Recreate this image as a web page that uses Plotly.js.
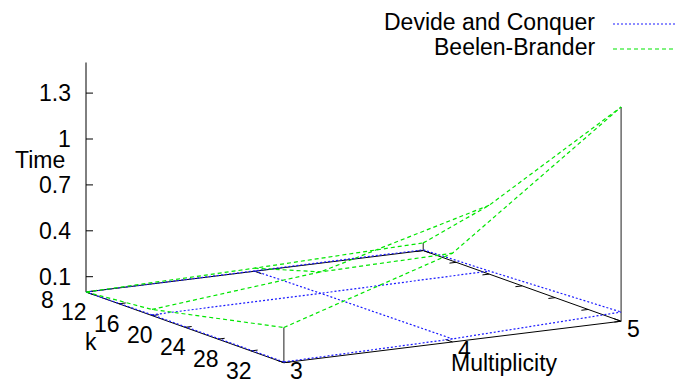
<!DOCTYPE html>
<html><head><meta charset="utf-8">
<script src="https://cdn.plot.ly/plotly-3.0.1.min.js"></script>
<style>html,body{margin:0;padding:0;background:#fff}#chart{width:676px;height:379px}</style>
</head><body><div id="chart"></div>
<script>
// ---------------- data ----------------
const kValues = [8, 16, 32];
const multiplicity = [3, 4, 5];
// rows = multiplicity (3,4,5), columns = k (8,16,32)
const devideConquer = [
  [0.000, 0.005, 0.005],
  [0.002, 0.010, 0.020],
  [0.005, 0.020, 0.060]
];
const beelenBrander = [
  [0.00, 0.04, 0.23],
  [0.02, 0.15, 0.58],
  [0.05, 0.45, 1.40]
];
const seriesNames = ['Devide and Conquer', 'Beelen-Brander'];
const kTicks = [8, 12, 16, 20, 24, 28, 32];
const mTicks = [3, 4, 5];
const zTicks = [0.1, 0.4, 0.7, 1.0, 1.3];
const zTickText = ['0.1', '0.4', '0.7', '1', '1.3'];
const axisTitles = {k: 'k', m: 'Multiplicity', z: 'Time'};

// ---------------- view (orthographic, gnuplot-like) ----------------
const DEG = Math.PI / 180;
const view = {az: 59.6 * DEG, el: 12.1 * DEG, L: 391, Hz: 153, ox: 86, oy: 292};
const kRange = [8, 32], mRange = [3, 5], zRange = [0, 1.5];
function P(k, m, z) {
  const fk = (k - kRange[0]) / (kRange[1] - kRange[0]);
  const fm = (m - mRange[0]) / (mRange[1] - mRange[0]);
  return [
    view.ox + view.L * (fk * Math.cos(view.az) + fm * Math.sin(view.az)),
    view.oy + view.L * Math.sin(view.el) * (fk * Math.sin(view.az) - fm * Math.cos(view.az)) - (z - zRange[0]) * view.Hz
  ];
}
function addPt(xs, ys, p) { xs.push(p[0]); ys.push(p[1]); }
function brk(xs, ys) { xs.push(null); ys.push(null); }

function wire(Z) {
  const xs = [], ys = [];
  multiplicity.forEach((m, i) => { kValues.forEach((k, j) => addPt(xs, ys, P(k, m, Z[i][j]))); brk(xs, ys); });
  kValues.forEach((k, j) => { multiplicity.forEach((m, i) => addPt(xs, ys, P(k, m, Z[i][j]))); brk(xs, ys); });
  return {xs, ys};
}

// box, axes, ticks
const bx = [], by = [];
[[kRange[0], mRange[0]], [kRange[1], mRange[0]], [kRange[1], mRange[1]], [kRange[0], mRange[1]], [kRange[0], mRange[0]]]
  .forEach(c => addPt(bx, by, P(c[0], c[1], 0)));
brk(bx, by);
addPt(bx, by, P(kRange[0], mRange[0], 0)); addPt(bx, by, P(kRange[0], mRange[0], zRange[1])); brk(bx, by);
zTicks.forEach(z => { const p = P(kRange[0], mRange[0], z); addPt(bx, by, p); addPt(bx, by, [p[0] + 7, p[1]]); brk(bx, by); });
const dm = 0.04, dk = 0.035 * (kRange[1] - kRange[0]);
kTicks.forEach(k => {
  addPt(bx, by, P(k, mRange[0], 0)); addPt(bx, by, P(k, mRange[0] + dm, 0)); brk(bx, by);
  addPt(bx, by, P(k, mRange[1], 0)); addPt(bx, by, P(k, mRange[1] - dm, 0)); brk(bx, by);
});
mTicks.forEach(m => {
  addPt(bx, by, P(kRange[1], m, 0)); addPt(bx, by, P(kRange[1] - dk, m, 0)); brk(bx, by);
  addPt(bx, by, P(kRange[0], m, 0)); addPt(bx, by, P(kRange[0] + dk, m, 0)); brk(bx, by);
});

// corner lines from base to surface corners
const cx = [], cy = [];
[[2, 0], [2, 2], [0, 2]].forEach(([jk, im]) => {
  const k = kValues[jk], m = multiplicity[im];
  addPt(cx, cy, P(k, m, 0)); addPt(cx, cy, P(k, m, beelenBrander[im][jk])); brk(cx, cy);
});

const wB = wire(devideConquer), wG = wire(beelenBrander);
const FONT = {family: 'Liberation Sans, Arial, sans-serif', size: 23, color: '#000'};

const traces = [
  {x: bx, y: by, mode: 'lines', line: {color: '#000', width: 1}, hoverinfo: 'skip', showlegend: false},
  {x: cx, y: cy, mode: 'lines', line: {color: '#444', width: 1.2}, hoverinfo: 'skip', showlegend: false},
  {x: wB.xs, y: wB.ys, mode: 'lines', name: seriesNames[0], line: {color: '#1a1aff', width: 1.2, dash: '2px,2px'}, showlegend: false},
  {x: wG.xs, y: wG.ys, mode: 'lines', name: seriesNames[1], line: {color: '#00e600', width: 1.2, dash: '4px,3px'}, showlegend: false}
];

const ann = [];
zTicks.forEach((z, i) => { const p = P(kRange[0], mRange[0], z);
  ann.push({x: p[0] - 14, y: p[1], text: zTickText[i], xanchor: 'right', yanchor: 'middle', showarrow: false}); });
kTicks.forEach(k => { const p = P(k, mRange[0], 0);
  ann.push({x: p[0] - 31, y: p[1] + 8, text: String(k), xanchor: 'right', yanchor: 'middle', showarrow: false}); });
mTicks.forEach(m => { const p = P(kRange[1], m, 0);
  ann.push({x: p[0] + 5, y: p[1] + 8, text: String(m), xanchor: 'left', yanchor: 'middle', showarrow: false}); });
ann.push({x: 40, y: 160, text: axisTitles.z, xanchor: 'center', yanchor: 'middle', showarrow: false});
ann.push({x: 91, y: 342, text: axisTitles.k, xanchor: 'center', yanchor: 'middle', showarrow: false});
ann.push({x: 504, y: 363, text: axisTitles.m, xanchor: 'center', yanchor: 'middle', showarrow: false});
// legend
ann.push({x: 596, y: 22, text: seriesNames[0], xanchor: 'right', yanchor: 'middle', showarrow: false});
ann.push({x: 596, y: 47, text: seriesNames[1], xanchor: 'right', yanchor: 'middle', showarrow: false});
ann.forEach(a => { a.xref = 'x'; a.yref = 'y'; a.font = FONT; a.borderpad = 0; });

const shapes = [
  {type: 'line', xref: 'x', yref: 'y', x0: 613, x1: 676, y0: 24, y1: 24, line: {color: '#1a1aff', width: 1.2, dash: '2px,2px'}},
  {type: 'line', xref: 'x', yref: 'y', x0: 613, x1: 676, y0: 49, y1: 49, line: {color: '#00e600', width: 1.2, dash: '4px,3px'}}
];

const layout = {
  width: 676, height: 379,
  margin: {l: 0, r: 0, t: 0, b: 0, pad: 0},
  paper_bgcolor: '#fff', plot_bgcolor: '#fff',
  xaxis: {range: [0, 676], visible: false, fixedrange: true},
  yaxis: {range: [379, 0], visible: false, fixedrange: true},
  annotations: ann, shapes: shapes, showlegend: false, font: FONT
};
Plotly.newPlot('chart', traces, layout, {displayModeBar: false, staticPlot: true});
</script>
</body></html>
